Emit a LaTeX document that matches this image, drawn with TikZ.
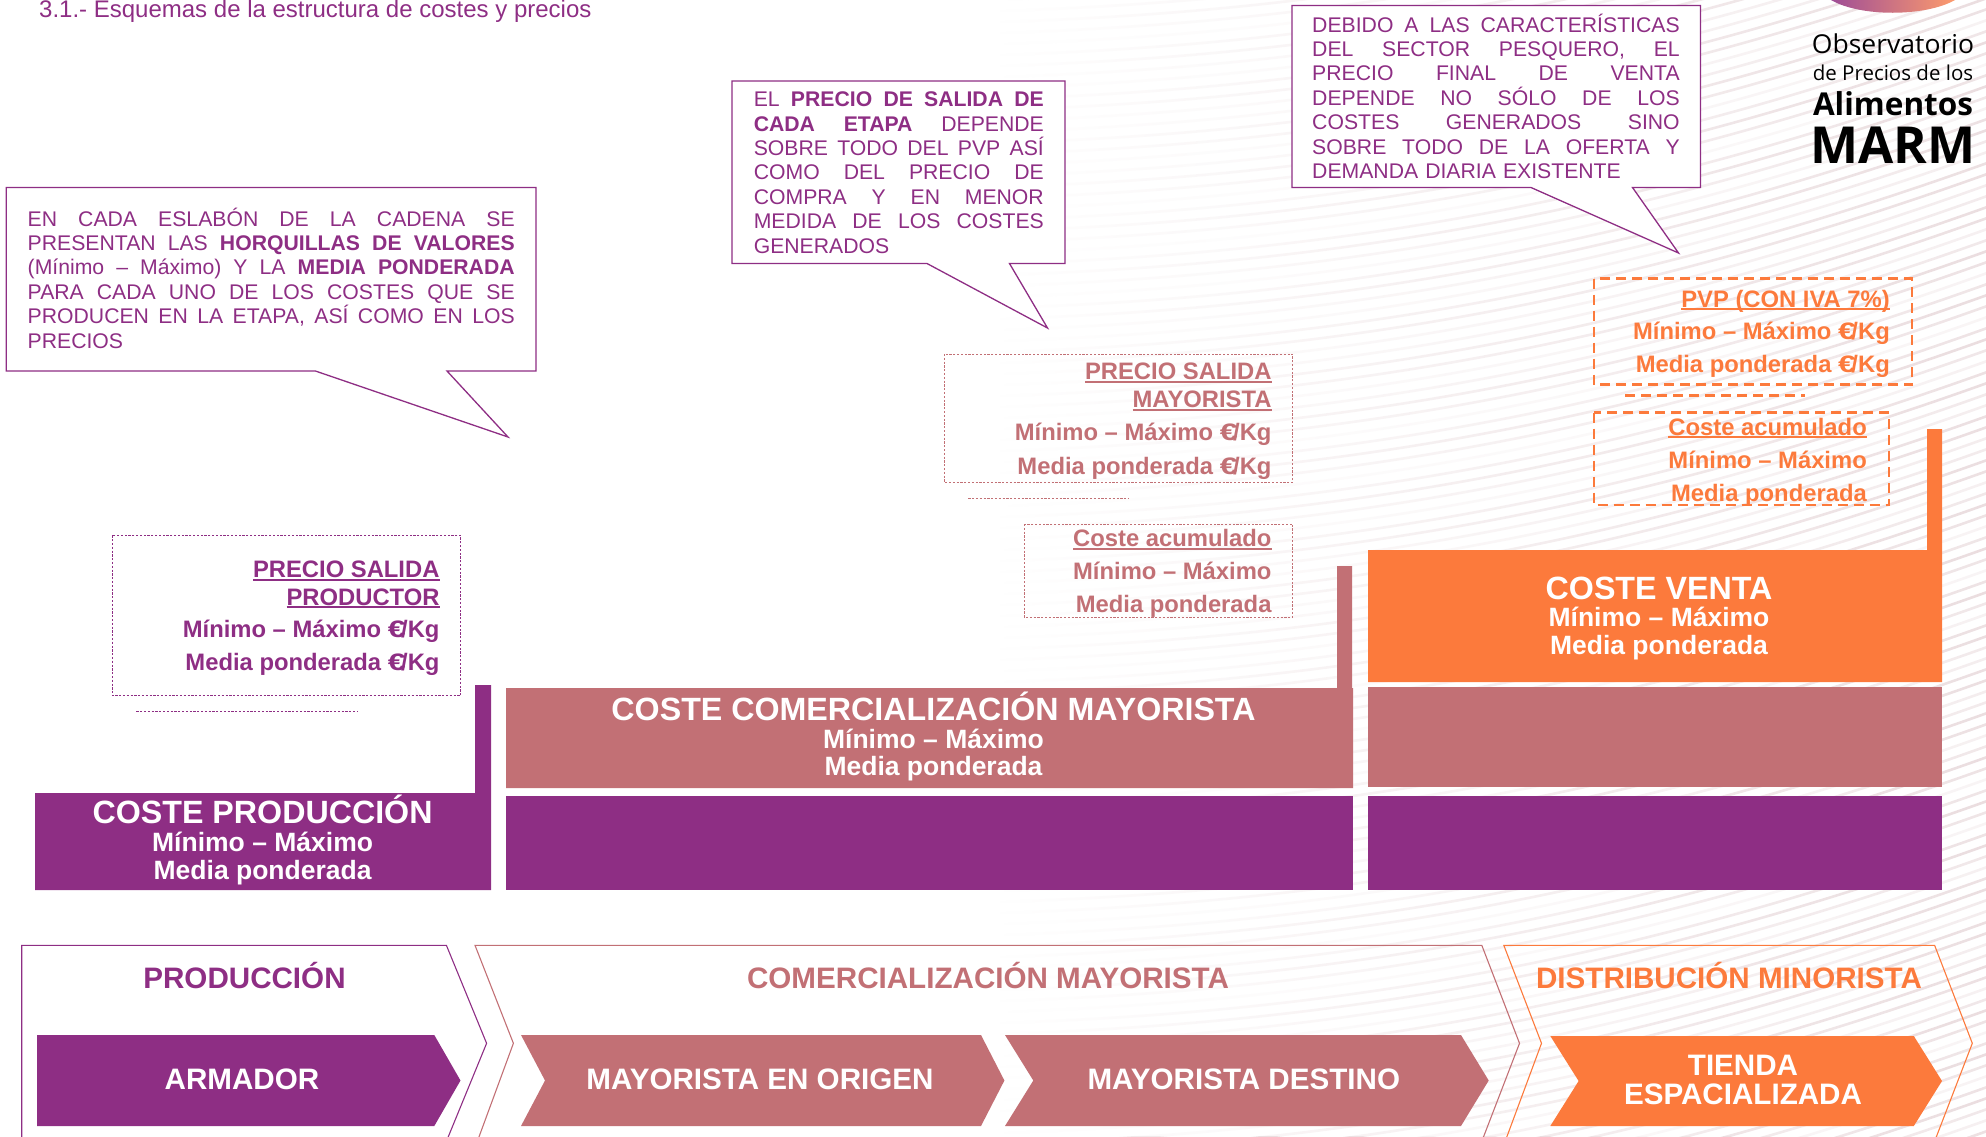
\documentclass[tikz,border=0pt]{standalone}
\usepackage{graphicx}
\usepackage{fontspec}
\setmainfont{Liberation Sans}
\newfontfamily\logofont{Open Sans}
\usetikzlibrary{fadings}
\definecolor{cpur}{HTML}{8E2E84}
\definecolor{crose}{HTML}{C27075}
\definecolor{corg}{HTML}{FC7A3C}
\definecolor{cstripe}{HTML}{E2CFD2}
\newcommand\ulx[1]{\leavevmode\setbox0\hbox{#1}\rlap{\rule[-3.2pt]{\wd0}{2pt}}\box0}
\newcommand\jl[2]{\makebox[#1][s]{\spaceskip=0pt\xspaceskip=0pt #2}\\}
\newcommand\ekg{\scalebox{1.35}[1]{€}\kern-4.5pt/Kg}
\tikzfading[name=stripefade, left color=transparent!0, middle color=transparent!72, right color=transparent!100]
\tikzset{
 callbox/.style={draw=cpur,line width=1.3pt,fill=white,line join=miter},
 calltext/.style={inner sep=0pt,anchor=north west,align=left,text=cpur,font=\fontsize{21.2}{24.4}\selectfont},
 side/.style={font=\bfseries\fontsize{23.8}{28}\selectfont,inner sep=0pt,anchor=base east},
 sidehead/.style={side},
 barhead/.style={font=\bfseries\fontsize{32.2}{34}\selectfont,text=white,inner sep=0pt,anchor=base},
 barsub/.style={font=\bfseries\fontsize{26.5}{28}\selectfont,text=white,inner sep=0pt,anchor=base},
 stage/.style={font=\bfseries\fontsize{29.6}{34}\selectfont,inner sep=0pt,anchor=base},
 dotbox/.style={line width=1pt,dash pattern=on 2.2pt off 1.6pt},
 orgbox/.style={draw=corg,line width=2.6pt,dash pattern=on 10pt off 6pt},
 logo/.style={text=black,inner sep=0pt,anchor=base},
}
\begin{document}
\begin{tikzpicture}[x=1pt,y=-1pt]
\useasboundingbox (0,0) rectangle (1986,1136);
% background stripes
\begin{scope}
\clip (0,0) rectangle (1986,1136);
\foreach \k in {0,...,122}{
 \pgfmathsetmacro\yy{\k*11}
 \pgfmathsetmacro\oo{0.2+0.5*abs(sin(\k*47))}
 \draw[cstripe,line width=2.6pt,opacity=\oo] (1000,\yy) .. controls (1300,\yy-10) and (1600,\yy-50) .. (1990,\yy-190);
}
\fill[white,path fading=stripefade] (1000,0) rectangle (1986,1136);
\end{scope}
% title
\node[inner sep=0pt,anchor=base west,text=cpur,font=\fontsize{24}{26}\selectfont] (title) at (39,17) {3.1.- Esquemas de la estructura de costes y precios};
% logo
\shade[left color=cpur!85,right color=corg!75] (1831,0) .. controls (1860,17) and (1925,17) .. (1955,0) -- cycle;
\node[logo,font=\logofont\fontsize{26}{28}\selectfont,xscale=1.02] (l1) at (1893,53.5) {Observatorio};
\node[logo,font=\logofont\fontsize{20.5}{24}\selectfont,xscale=1.0] (l2) at (1893,80) {de Precios de los};
\node[logo,font=\logofont\bfseries\fontsize{31.5}{32}\selectfont] (l3) at (1893,115) {Alimentos};
\node[logo,font=\logofont\bfseries\fontsize{51}{52}\selectfont] (l4) at (1893,163.5) {MARM};
% callouts
\draw[callbox] (6.3,187.5) -- (536,187.5) -- (536,371) -- (447,371) -- (508,437) -- (315.4,371) -- (6.3,371) -- cycle;
\draw[callbox] (732,81) -- (1065,81) -- (1065,263.5) -- (1009.5,263.5) -- (1047.5,328) -- (927,263.5) -- (732,263.5) -- cycle;
\draw[callbox] (1292,5.4) -- (1700.5,5.4) -- (1700.5,187.5) -- (1632.5,187.5) -- (1678.5,253) -- (1531,187.5) -- (1292,187.5) -- cycle;
\node[calltext,text width=487pt] (c1) at (27.5,207.5) {%
\jl{487pt}{\rule{0pt}{17pt}EN CADA ESLABÓN DE LA CADENA SE}
\jl{487pt}{PRESENTAN LAS \textbf{HORQUILLAS DE VALORES}}
\jl{487pt}{(Mínimo – Máximo) Y LA \textbf{MEDIA PONDERADA}}
\jl{487pt}{PARA CADA UNO DE LOS COSTES QUE SE}
\jl{487pt}{PRODUCEN EN LA ETAPA, ASÍ COMO EN LOS}
PRECIOS};
\node[calltext,text width=290pt] (c2) at (753.6,89.5) {%
\jl{290pt}{\rule{0pt}{17pt}EL \textbf{PRECIO DE SALIDA DE}}
\jl{290pt}{\textbf{CADA ETAPA} DEPENDE}
\jl{290pt}{SOBRE TODO DEL PVP ASÍ}
\jl{290pt}{COMO DEL PRECIO DE}
\jl{290pt}{COMPRA Y EN MENOR}
\jl{290pt}{MEDIDA DE LOS COSTES}
GENERADOS};
\node[calltext,text width=367.5pt] (c3) at (1312,13.5) {%
\jl{367.5pt}{\rule{0pt}{17pt}DEBIDO A LAS CARACTERÍSTICAS}
\jl{367.5pt}{DEL SECTOR PESQUERO, EL}
\jl{367.5pt}{PRECIO FINAL DE VENTA}
\jl{367.5pt}{DEPENDE NO SÓLO DE LOS}
\jl{367.5pt}{COSTES GENERADOS SINO}
\jl{367.5pt}{SOBRE TODO DE LA OFERTA Y}
DEMANDA DIARIA EXISTENTE};
% price boxes
\draw[cpur,dotbox] (112.3,535.3) rectangle (460.7,695.7);
\coordinate (d1a) at (136.4,711.3); \coordinate (d1b) at (358,711.3);
\draw[cpur,dotbox] (d1a) -- (d1b);
\draw[crose,dotbox] (944.3,354) rectangle (1292.7,482.3);
\coordinate (d2a) at (968.3,498); \coordinate (d2b) at (1129.3,498);
\draw[crose,dotbox] (d2a) -- (d2b);
\draw[crose,dotbox] (1024.3,524) rectangle (1292.7,617.3);
\draw[orgbox] (1594,278.6) rectangle (1912,384.6);
\coordinate (d3a) at (1625,395.7); \coordinate (d3b) at (1804.5,395.7);
\draw[corg,line width=2.6pt,dash pattern=on 10pt off 6pt] (d3a) -- (d3b);
\draw[orgbox] (1594,412.5) rectangle (1889,505);
% side texts
\begin{scope}[text=cpur]
\node[sidehead] (a1) at (439.7,577.3) {\ulx{PRECIO SALIDA}};
\node[sidehead] (a2) at (439.7,605) {\ulx{PRODUCTOR}};
\node[side] (a3) at (439.7,637.7) {Mínimo – Máximo \ekg};
\node[side] (a4) at (439.7,670.7) {Media ponderada \ekg};
\end{scope}
\begin{scope}[text=crose]
\node[sidehead] (b1) at (1271.7,379.3) {\ulx{PRECIO SALIDA}};
\node[sidehead] (b2) at (1271.7,407.7) {\ulx{MAYORISTA}};
\node[side] (b3) at (1271.7,440.7) {Mínimo – Máximo \ekg};
\node[side] (b4) at (1271.7,474) {Media ponderada \ekg};
\node[sidehead] (b5) at (1271.7,546.7) {\ulx{Coste acumulado}};
\node[side] (b6) at (1271.7,579.3) {Mínimo – Máximo};
\node[side] (b7) at (1271.7,612.7) {Media ponderada};
\end{scope}
\begin{scope}[text=corg]
\node[sidehead] (e1) at (1890,307) {\ulx{PVP (CON IVA 7\%)}};
\node[side] (e2) at (1890,339) {Mínimo – Máximo \ekg};
\node[side] (e3) at (1890,372.5) {Media ponderada \ekg};
\node[sidehead] (e4) at (1867,435) {\ulx{Coste acumulado}};
\node[side] (e5) at (1867,468) {Mínimo – Máximo};
\node[side] (e6) at (1867,501) {Media ponderada};
\end{scope}
% bars
\fill[cpur] (35,793) -- (475,793) -- (475,685) -- (491,685) -- (491,890) -- (35,890) -- cycle;
\fill[crose] (506,688) -- (1337,688) -- (1337,566) -- (1352,566) -- (1352,688) -- (1353,688) -- (1353,788) -- (506,788) -- cycle;
\fill[corg] (1368,550) -- (1927,550) -- (1927,429) -- (1942,429) -- (1942,682) -- (1368,682) -- cycle;
\fill[cpur] (506,796) rectangle (1353,890);
\fill[crose] (1368,687) rectangle (1942,787);
\fill[cpur] (1368,796) rectangle (1941.5,890);
\node[barhead] (p1) at (262.6,823.3) {COSTE PRODUCCIÓN};
\node[barsub] (p2) at (262.6,851.3) {Mínimo – Máximo};
\node[barsub] (p3) at (262.6,879) {Media ponderada};
\node[barhead] (m1) at (933.5,720.5) {COSTE COMERCIALIZACIÓN MAYORISTA};
\node[barsub] (m2) at (933.5,748) {Mínimo – Máximo};
\node[barsub] (m3) at (933.5,775.5) {Media ponderada};
\node[barhead] (v1) at (1659,599) {COSTE VENTA};
\node[barsub] (v2) at (1659,626) {Mínimo – Máximo};
\node[barsub] (v3) at (1659,654) {Media ponderada};
% stage outlines
\draw[cpur,line width=1.1pt] (21.7,1145) -- (21.7,945.3) -- (446.4,945.3) -- (486.6,1043.3) -- (446.4,1141.3);
\draw[crose,line width=1.1pt] (476,1145) -- (513.4,1043.3) -- (475,945.3) -- (1481.8,945.3) -- (1519.5,1043.3) -- (1481.8,1141.3);
\draw[corg,line width=1.1pt] (1503.8,1145) -- (1541.5,1043.3) -- (1503.8,945.3) -- (1934.6,945.3) -- (1972.3,1043.3) -- (1934.6,1141.3);
\node[stage,text=cpur] (s1) at (244.5,988) {PRODUCCIÓN};
\node[stage,text=crose] (s2) at (988,988) {COMERCIALIZACIÓN MAYORISTA};
\node[stage,text=corg] (s3) at (1729,988) {DISTRIBUCIÓN MINORISTA};
% chevrons
\fill[cpur] (37,1035) -- (434.3,1035) -- (460.5,1080.5) -- (434.3,1126) -- (37,1126) -- cycle;
\fill[crose] (521,1035) -- (981,1035) -- (1004.4,1080.5) -- (981,1126) -- (521,1126) -- (545,1080.5) -- cycle;
\fill[crose] (1005,1035) -- (1461,1035) -- (1488.7,1080.5) -- (1461,1126) -- (1005,1126) -- (1033.3,1080.5) -- cycle;
\fill[corg] (1550.3,1036) -- (1913.8,1036) -- (1942,1081) -- (1913.8,1126) -- (1550.3,1126) -- (1578.6,1081) -- cycle;
\node[stage,text=white] (t1) at (242,1089) {ARMADOR};
\node[stage,text=white] (t2) at (760,1089) {MAYORISTA EN ORIGEN};
\node[stage,text=white] (t3) at (1243.8,1089) {MAYORISTA DESTINO};
\node[stage,text=white] (t4) at (1743,1075) {TIENDA};
\node[stage,text=white] (t5) at (1743,1104) {ESPACIALIZADA};
\end{tikzpicture}
\end{document}
